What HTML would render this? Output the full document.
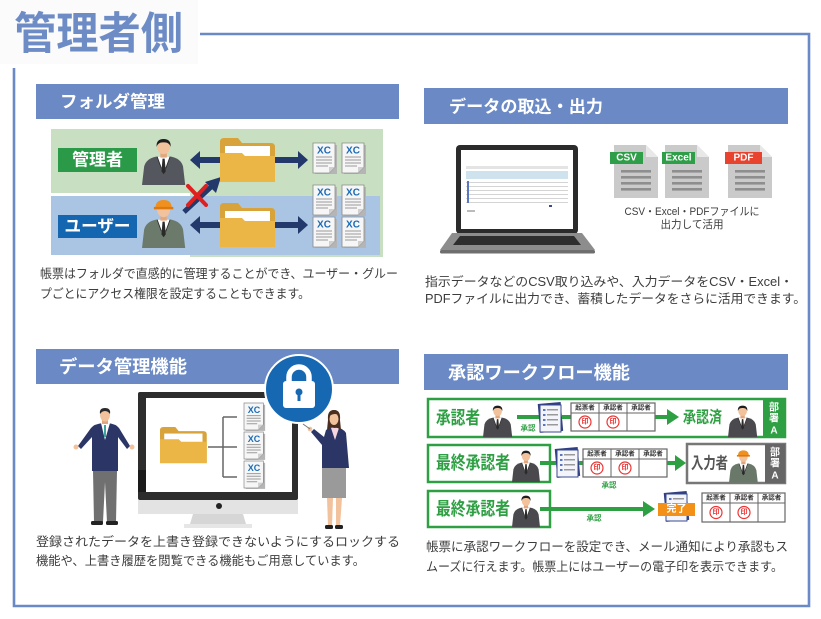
<!DOCTYPE html>
<html><head><meta charset="utf-8">
<style>
html,body{margin:0;padding:0;background:#fff;}
body{width:821px;height:619px;overflow:hidden;}
svg{display:block;}
</style></head>
<body>
<svg width="821" height="619" viewBox="0 0 821 619" xmlns="http://www.w3.org/2000/svg" font-family="'Liberation Sans','Noto Sans CJK JP',sans-serif">
<defs>
  <g id="person">
    <path d="M0,48 L2,29 Q4,21 13,19 L27,19 Q36,21 38,29 L40,48Z" fill="currentColor"/>
    <polygon points="14,19 20,36 26,19" fill="#fff"/>
    <polygon points="19,21 21,21 22,34 20,37 18,34" fill="#2a2a2a"/>
    <path d="M14,19 L18,31 M26,19 L22,31" stroke="#2a2a2a" stroke-width="0.8" fill="none"/>
    <rect x="17" y="14" width="6" height="6" fill="#e3a77f"/>
    <ellipse cx="20" cy="9" rx="6" ry="7.5" fill="#f1c29c"/>
    <path d="M13.5,9 Q13,1 20,1 Q27,1 26.5,9 Q25,4 20,4.5 Q15,4 13.5,9Z" fill="#1e1e1e"/>
  </g>
  <g id="personH">
    <path d="M0,48 L2,29 Q4,21 13,19 L27,19 Q36,21 38,29 L40,48Z" fill="currentColor"/>
    <polygon points="14,19 20,36 26,19" fill="#fff"/>
    <polygon points="19,21 21,21 22,34 20,37 18,34" fill="#2a2a2a"/>
    <path d="M14,19 L18,31 M26,19 L22,31" stroke="#2a2a2a" stroke-width="0.8" fill="none"/>
    <rect x="17" y="14" width="6" height="6" fill="#e3a77f"/>
    <ellipse cx="20" cy="9" rx="6" ry="7.5" fill="#f1c29c"/>
    <path d="M12.5,7 Q12.5,-1 20,-1 Q27.5,-1 27.5,7 Z" fill="#f0901e"/>
    <rect x="11" y="6" width="18" height="2.5" fill="#dc7a10"/>
  </g>
  <g id="folder">
    <path d="M0,4 Q0,0 4,0 H18 L22,5 H51 Q55,5 55,9 V44 H0Z" fill="#d8a33a"/>
    <rect x="5" y="8" width="45" height="20" fill="#fff"/>
    <path d="M0,15 H22 L25,18 H55 V44 H0Z" fill="#ebb646"/>
  </g>
  <g id="xcdoc">
    <rect x="2" y="2" width="22" height="29" fill="#b5b5b5"/>
    <path d="M0,0 H22 V24 L16,30 H0Z" fill="#f6f6f6" stroke="#8a8a8a" stroke-width="0.8"/>
    <path d="M16,30 V24 H22Z" fill="#cfcfcf"/>
    <path d="M3,14 H19 M3,17 H19 M3,20 H19 M3,23 H15" stroke="#9a9a9a" stroke-width="1.1"/>
  </g>
  <g id="file">
    <path d="M0,0 H32 L44,12 V53 H0Z" fill="#cacaca"/>
    <path d="M32,0 V12 H44Z" fill="#e8e8e8"/>
    <rect x="7" y="25" width="30" height="2.6" fill="#8e8e8e"/>
    <rect x="7" y="31" width="30" height="2.6" fill="#8e8e8e"/>
    <rect x="7" y="37" width="30" height="2.6" fill="#8e8e8e"/>
    <rect x="7" y="43" width="30" height="2.6" fill="#8e8e8e"/>
  </g>
  <g id="form">
    <rect x="1" y="0" width="23" height="29" fill="#2f3f80" transform="rotate(-5 12 15)"/>
    <rect x="2" y="2" width="21" height="27" fill="#f3f5fb" stroke="#3b4a8f" stroke-width="1"/>
    <rect x="5" y="6" width="2.5" height="2" fill="#5a78c0"/><rect x="9" y="6" width="11" height="1.5" fill="#999"/>
    <rect x="5" y="11" width="2.5" height="2" fill="#5a78c0"/><rect x="9" y="11" width="11" height="1.5" fill="#999"/>
    <rect x="5" y="16" width="2.5" height="2" fill="#5a78c0"/><rect x="9" y="16" width="11" height="1.5" fill="#999"/>
    <rect x="5" y="21" width="2.5" height="2" fill="#5a78c0"/><rect x="9" y="21" width="11" height="1.5" fill="#999"/>
  </g>
</defs>

<!-- Title -->
<rect x="0" y="0" width="198" height="64" fill="#fbfbfb"/>
<text x="14" y="34" font-size="44" font-weight="bold" fill="#6d8cc6" dominant-baseline="central" textLength="169" lengthAdjust="spacingAndGlyphs">管理者側</text>

<!-- Frame -->
<path d="M200,34 H809 V606 H14 V68" fill="none" stroke="#6a89c7" stroke-width="2.6"/>

<!-- Section headers -->
<rect x="36" y="84" width="363" height="35" fill="#6a89c5"/>
<text x="60" y="102" font-size="17" font-weight="bold" fill="#fff" dominant-baseline="central" textLength="105" lengthAdjust="spacingAndGlyphs">フォルダ管理</text>
<rect x="424" y="88" width="364" height="36" fill="#6a89c5"/>
<text x="449" y="107" font-size="17" font-weight="bold" fill="#fff" dominant-baseline="central" textLength="154" lengthAdjust="spacingAndGlyphs">データの取込・出力</text>
<rect x="36" y="349" width="363" height="35" fill="#6a89c5"/>
<text x="59" y="367" font-size="18" font-weight="bold" fill="#fff" dominant-baseline="central" textLength="128" lengthAdjust="spacingAndGlyphs">データ管理機能</text>
<rect x="424" y="354" width="364" height="36" fill="#6a89c5"/>
<text x="448" y="373" font-size="18" font-weight="bold" fill="#fff" dominant-baseline="central" textLength="182" lengthAdjust="spacingAndGlyphs">承認ワークフロー機能</text>

<!-- ============ Folder section ============ -->
<polygon points="51,129 383,129 383,257 190,257 190,193 51,193" fill="#c8e0c1"/>
<rect x="51" y="196" width="329" height="59" fill="#aac4e4"/>
<rect x="58" y="148" width="79" height="24" fill="#2a9a48"/>
<text x="97.5" y="160" font-size="17" font-weight="bold" fill="#fff" text-anchor="middle" dominant-baseline="central">管理者</text>
<rect x="58" y="215" width="79" height="23" fill="#1566b0"/>
<text x="97.5" y="226.5" font-size="17" font-weight="bold" fill="#fff" text-anchor="middle" dominant-baseline="central" textLength="66" lengthAdjust="spacingAndGlyphs">ユーザー</text>
<use href="#person" transform="translate(142,138) scale(1.08,0.98)" color="#54585e"/>
<use href="#personH" transform="translate(142,201) scale(1.08,0.98)" color="#6c7a6c"/>
<!-- arrows top -->
<g fill="#23386b">
  <rect x="198" y="157" width="24" height="6"/><polygon points="190,160 200,151 200,169"/>
  <rect x="275" y="157" width="24" height="6"/><polygon points="308,160 298,151 298,169"/>
  <rect x="198" y="222" width="24" height="6"/><polygon points="190,225 200,216 200,234"/>
  <rect x="275" y="222" width="24" height="6"/><polygon points="308,225 298,216 298,234"/>
  <line x1="184" y1="212" x2="211" y2="187" stroke="#23386b" stroke-width="5"/>
  <polygon points="221,177 216,193 205,182"/>
</g>
<use href="#folder" transform="translate(220,138)"/>
<use href="#folder" transform="translate(220,203)"/>
<g stroke="#e02020" stroke-width="4" stroke-linecap="round">
  <line x1="188" y1="186" x2="206" y2="205"/><line x1="206" y1="186" x2="188" y2="205"/>
</g>
<use href="#xcdoc" transform="translate(313,143)"/>
<use href="#xcdoc" transform="translate(342,143)"/>
<use href="#xcdoc" transform="translate(313,185)"/>
<use href="#xcdoc" transform="translate(342,185)"/>
<use href="#xcdoc" transform="translate(313,217)"/>
<use href="#xcdoc" transform="translate(342,217)"/>
<g font-size="10" font-weight="bold" fill="#1a6bb5" text-anchor="middle" dominant-baseline="central">
  <text x="324" y="151">XC</text><text x="353" y="151">XC</text>
  <text x="324" y="193">XC</text><text x="353" y="193">XC</text>
  <text x="324" y="225">XC</text><text x="353" y="225">XC</text>
</g>
<g font-size="12.5" fill="#3c3c3c" dominant-baseline="central">
  <text x="40" y="274" textLength="358" lengthAdjust="spacingAndGlyphs">帳票はフォルダで直感的に管理することができ、ユーザー・グルー</text>
  <text x="40" y="294" textLength="270" lengthAdjust="spacingAndGlyphs">プごとにアクセス権限を設定することもできます。</text>
</g>

<!-- ============ Data import section ============ -->
<rect x="456" y="145" width="122" height="89" rx="4" fill="#2b2b2b"/>
<rect x="461" y="150" width="112" height="79" fill="#fff"/>
<rect x="466" y="166" width="102" height="3" fill="#e4e4e4"/>
<rect x="466" y="171" width="102" height="8" fill="#cfe3ee"/>
<g fill="#d4d4d4">
  <rect x="466" y="182" width="102" height="1"/><rect x="466" y="186" width="102" height="1"/>
  <rect x="466" y="190" width="102" height="1"/><rect x="466" y="194" width="102" height="1"/>
  <rect x="466" y="198" width="102" height="1"/><rect x="466" y="202" width="102" height="1"/>
</g>
<g fill="#5a78c0"><rect x="467" y="181" width="2" height="22"/></g>
<rect x="549" y="205" width="3" height="2" fill="#3b4a8f"/>
<rect x="467" y="210" width="8" height="2" fill="#bbb"/>
<polygon points="452,233 582,233 595,250 440,250" fill="#8d8d8d"/>
<polygon points="460,236 574,236 581,245 453,245" fill="#2e2e2e"/>
<rect x="440" y="250" width="155" height="3.5" rx="1.5" fill="#6e6e6e"/>
<use href="#file" transform="translate(614,145)"/>
<use href="#file" transform="translate(665,145)"/>
<use href="#file" transform="translate(728,145)"/>
<rect x="610" y="152" width="33" height="12" fill="#2f9e48"/>
<rect x="662" y="152" width="33" height="12" fill="#2f9e48"/>
<rect x="725" y="152" width="37" height="12" fill="#e8432f"/>
<g font-size="10" font-weight="bold" fill="#fff" text-anchor="middle" dominant-baseline="central">
  <text x="626.5" y="158">CSV</text>
  <text x="678.5" y="158">Excel</text>
  <text x="743.5" y="158">PDF</text>
</g>
<g font-size="11" fill="#3c3c3c" text-anchor="middle" dominant-baseline="central">
  <text x="692" y="212" textLength="135" lengthAdjust="spacingAndGlyphs">CSV・Excel・PDFファイルに</text>
  <text x="692" y="225" textLength="63" lengthAdjust="spacingAndGlyphs">出力して活用</text>
</g>
<g font-size="12.5" fill="#3c3c3c" dominant-baseline="central">
  <text x="425" y="282" textLength="368" lengthAdjust="spacingAndGlyphs">指示データなどのCSV取り込みや、入力データをCSV・Excel・</text>
  <text x="425" y="299" textLength="381" lengthAdjust="spacingAndGlyphs">PDFファイルに出力でき、蓄積したデータをさらに活用できます。</text>
</g>

<!-- ============ Data management section ============ -->
<rect x="138" y="392" width="160" height="108" rx="2" fill="#2d2d2d"/>
<rect x="146" y="398" width="146" height="94" fill="#fff"/>
<rect x="138" y="470" width="8" height="22" fill="#1a1a1a"/>
<rect x="138" y="500" width="160" height="14" fill="#e3e3e3"/>
<circle cx="219" cy="506" r="3" fill="#222"/>
<polygon points="193,514 243,514 246,524 190,524" fill="#d6d6d6"/>
<rect x="184" y="524" width="68" height="4" fill="#e6e6e6"/>
<use href="#folder" transform="translate(160,427) scale(0.85,0.82)"/>
<g stroke="#666" stroke-width="1.5" fill="none">
  <path d="M208,447 H237 M223,417 V477 M223,417 H237 M223,477 H237"/>
</g>
<use href="#xcdoc" transform="translate(244,403) scale(0.88,0.9)"/>
<use href="#xcdoc" transform="translate(244,432) scale(0.88,0.9)"/>
<use href="#xcdoc" transform="translate(244,461) scale(0.88,0.9)"/>
<g font-size="9" font-weight="bold" fill="#1a6bb5" text-anchor="middle" dominant-baseline="central">
  <text x="254" y="410">XC</text><text x="254" y="439">XC</text><text x="254" y="468">XC</text>
</g>
<!-- lock -->
<circle cx="299" cy="389" r="34" fill="#1668b3" stroke="#fff" stroke-width="2"/>
<path d="M289,384 V377 A10,10 0 0 1 309,377 V384" fill="none" stroke="#fff" stroke-width="5.5"/>
<rect x="283" y="381" width="32" height="27" rx="3" fill="#fff"/>
<circle cx="299" cy="392" r="3.5" fill="#1668b3"/>
<rect x="297.5" y="393" width="3" height="8" fill="#1668b3"/>
<!-- man -->
<g>
  <path d="M91,428 Q94,424 103,423 L108,423 Q116,424 119,428 L130,446 L127,449 L118,437 L118,471 L92,471 L92,437 L81,449 L78,446Z" fill="#2b3566"/>
  <polygon points="101,423 105,440 110,423" fill="#fff"/>
  <rect x="104" y="425" width="2" height="12" fill="#3ca5a0"/>
  <circle cx="76" cy="447" r="2.5" fill="#f1c29c"/>
  <circle cx="132" cy="447" r="2.5" fill="#f1c29c"/>
  <path d="M93,471 H117 L116,522 H107 L105,482 L103,522 H94Z" fill="#707070"/>
  <rect x="91" y="521" width="12" height="4" rx="1.5" fill="#222"/>
  <rect x="106" y="521" width="12" height="4" rx="1.5" fill="#222"/>
  <rect x="102" y="418" width="6" height="6" fill="#e3a77f"/>
  <ellipse cx="105" cy="415" rx="5" ry="6.5" fill="#f1c29c"/>
  <path d="M100,414 Q99,408 105,408 Q111,408 110,414 Q108,411 105,411 Q102,411 100,414Z" fill="#2a2a2a"/>
</g>
<!-- woman -->
<g>
  <path d="M326,430 Q330,427 335,427 Q343,428 346,433 L349,468 L322,468 L322,445 L311,432 L314,429 L324,437Z" fill="#2b3566"/>
  <polygon points="331,428 335,440 339,428" fill="#f4d5e0"/>
  <circle cx="310" cy="429" r="2.3" fill="#f1c29c"/>
  <line x1="303" y1="424" x2="310" y2="429" stroke="#777" stroke-width="1"/>
  <rect x="322" y="468" width="24" height="30" fill="#9a9a9a"/>
  <path d="M327,498 H333 L332,526 H328Z M336,498 H342 L340,526 H336Z" fill="#f1c29c"/>
  <rect x="325" y="525" width="8" height="4" rx="1.5" fill="#222"/>
  <rect x="335" y="525" width="8" height="4" rx="1.5" fill="#222"/>
  <path d="M328,420 Q327,410 334,410 Q341,410 340,420 L341,430 L336,427 L332,427 L327,430Z" fill="#4a2f20"/>
  <ellipse cx="334" cy="419" rx="4.5" ry="6" fill="#f1c29c"/>
  <path d="M329,416 Q330,410 334,410 Q339,410 339,416 Q336,412 329,416Z" fill="#4a2f20"/>
</g>
<g font-size="12.5" fill="#3c3c3c" dominant-baseline="central">
  <text x="36" y="542" textLength="364" lengthAdjust="spacingAndGlyphs">登録されたデータを上書き登録できないようにするロックする</text>
  <text x="36" y="561" textLength="329" lengthAdjust="spacingAndGlyphs">機能や、上書き履歴を閲覧できる機能もご用意しています。</text>
</g>

<!-- ============ Workflow section ============ -->
<!-- Row 1 -->
<rect x="428" y="399" width="357" height="38" fill="#fff" stroke="#2ea043" stroke-width="2.5"/>
<rect x="763" y="399" width="22" height="38" fill="#2ea043"/>
<g font-size="10" font-weight="bold" fill="#fff" text-anchor="middle" dominant-baseline="central">
  <text x="774" y="408">部</text><text x="774" y="419">署</text><text x="774" y="431">A</text>
</g>
<text x="436" y="418" font-size="18" font-weight="bold" fill="#2ea043" dominant-baseline="central" textLength="44" lengthAdjust="spacingAndGlyphs">承認者</text>
<use href="#person" transform="translate(483,405) scale(0.73,0.67)" color="#4a4a4e"/>
<line x1="517" y1="417" x2="540" y2="417" stroke="#2ea043" stroke-width="4"/>
<text x="528" y="428" font-size="7.5" font-weight="bold" fill="#2ea043" text-anchor="middle" dominant-baseline="central">承認</text>
<use href="#form" transform="translate(538,403)"/>
<line x1="562" y1="417" x2="571" y2="417" stroke="#2ea043" stroke-width="4"/>
<g>
  <rect x="571" y="403" width="84" height="28" fill="#fff" stroke="#666" stroke-width="1.2"/>
  <path d="M571,413 H655 M599,403 V431 M627,403 V431" stroke="#666" stroke-width="1"/>
  <g font-size="6.5" font-weight="bold" fill="#333" text-anchor="middle" dominant-baseline="central">
    <text x="585" y="408">起票者</text><text x="613" y="408">承認者</text><text x="641" y="408">承認者</text>
  </g>
  <circle cx="585" cy="422" r="6" fill="none" stroke="#e33" stroke-width="1.2"/>
  <circle cx="613" cy="422" r="6" fill="none" stroke="#e33" stroke-width="1.2"/>
  <g font-size="7" font-weight="bold" fill="#e33" text-anchor="middle" dominant-baseline="central">
    <text x="585" y="422">印</text><text x="613" y="422">印</text>
  </g>
</g>
<line x1="655" y1="417" x2="669" y2="417" stroke="#2ea043" stroke-width="4"/>
<polygon points="667,409 679,417 667,425" fill="#2ea043"/>
<text x="683" y="418" font-size="16" font-weight="bold" fill="#2ea043" dominant-baseline="central" textLength="39" lengthAdjust="spacingAndGlyphs">承認済</text>
<use href="#person" transform="translate(728,405) scale(0.73,0.67)" color="#4a4a4e"/>

<!-- Row 2 -->
<rect x="428" y="445" width="122" height="37" fill="#fff" stroke="#2ea043" stroke-width="2.5"/>
<text x="436" y="463" font-size="18" font-weight="bold" fill="#2ea043" dominant-baseline="central" textLength="74" lengthAdjust="spacingAndGlyphs">最終承認者</text>
<use href="#person" transform="translate(512,450) scale(0.7,0.67)" color="#4a4a4e"/>
<line x1="540" y1="463" x2="556" y2="463" stroke="#2ea043" stroke-width="4"/>
<use href="#form" transform="translate(555,448)"/>
<line x1="579" y1="463" x2="583" y2="463" stroke="#2ea043" stroke-width="4"/>
<g>
  <rect x="583" y="449" width="84" height="28" fill="#fff" stroke="#666" stroke-width="1.2"/>
  <path d="M583,459 H667 M611,449 V477 M639,449 V477" stroke="#666" stroke-width="1"/>
  <g font-size="6.5" font-weight="bold" fill="#333" text-anchor="middle" dominant-baseline="central">
    <text x="597" y="454">起票者</text><text x="625" y="454">承認者</text><text x="653" y="454">承認者</text>
  </g>
  <circle cx="597" cy="468" r="6" fill="none" stroke="#e33" stroke-width="1.2"/>
  <circle cx="625" cy="468" r="6" fill="none" stroke="#e33" stroke-width="1.2"/>
  <g font-size="7" font-weight="bold" fill="#e33" text-anchor="middle" dominant-baseline="central">
    <text x="597" y="468">印</text><text x="625" y="468">印</text>
  </g>
</g>
<text x="609" y="485" font-size="7.5" font-weight="bold" fill="#2ea043" text-anchor="middle" dominant-baseline="central">承認</text>
<line x1="667" y1="463" x2="677" y2="463" stroke="#2ea043" stroke-width="4"/>
<polygon points="675,455 686,463 675,471" fill="#2ea043"/>
<rect x="687" y="444" width="98" height="39" fill="#fff" stroke="#777" stroke-width="2.5"/>
<rect x="765" y="444" width="20" height="39" fill="#666"/>
<g font-size="10" font-weight="bold" fill="#fff" text-anchor="middle" dominant-baseline="central">
  <text x="775" y="453">部</text><text x="775" y="464">署</text><text x="775" y="476">A</text>
</g>
<text x="691" y="464" font-size="16" font-weight="bold" fill="#555" dominant-baseline="central" textLength="37" lengthAdjust="spacingAndGlyphs">入力者</text>
<use href="#personH" transform="translate(729,451) scale(0.72,0.66)" color="#6a786a"/>

<!-- Row 3 -->
<rect x="428" y="491" width="122" height="36" fill="#fff" stroke="#2ea043" stroke-width="2.5"/>
<text x="436" y="509" font-size="18" font-weight="bold" fill="#2ea043" dominant-baseline="central" textLength="74" lengthAdjust="spacingAndGlyphs">最終承認者</text>
<use href="#person" transform="translate(512,495) scale(0.7,0.67)" color="#4a4a4e"/>
<line x1="540" y1="509" x2="645" y2="509" stroke="#2ea043" stroke-width="4"/>
<polygon points="643,501 655,509 643,517" fill="#2ea043"/>
<text x="594" y="518" font-size="7.5" font-weight="bold" fill="#2ea043" text-anchor="middle" dominant-baseline="central">承認</text>
<use href="#form" transform="translate(664,492)"/>
<rect x="658" y="503" width="37" height="13" fill="#f39018"/>
<text x="676.5" y="509.5" font-size="10" font-weight="bold" fill="#fff" text-anchor="middle" dominant-baseline="central">完了</text>
<g>
  <rect x="702" y="493" width="83" height="29" fill="#fff" stroke="#666" stroke-width="1.2"/>
  <path d="M702,503 H785 M730,493 V522 M758,493 V522" stroke="#666" stroke-width="1"/>
  <g font-size="6.5" font-weight="bold" fill="#333" text-anchor="middle" dominant-baseline="central">
    <text x="716" y="498">起票者</text><text x="744" y="498">承認者</text><text x="771.5" y="498">承認者</text>
  </g>
  <circle cx="716" cy="512.5" r="6" fill="none" stroke="#e33" stroke-width="1.2"/>
  <circle cx="744" cy="512.5" r="6" fill="none" stroke="#e33" stroke-width="1.2"/>
  <g font-size="7" font-weight="bold" fill="#e33" text-anchor="middle" dominant-baseline="central">
    <text x="716" y="512.5">印</text><text x="744" y="512.5">印</text>
  </g>
</g>
<g font-size="12.5" fill="#3c3c3c" dominant-baseline="central">
  <text x="426" y="547" textLength="362" lengthAdjust="spacingAndGlyphs">帳票に承認ワークフローを設定でき、メール通知により承認もス</text>
  <text x="426" y="567" textLength="357" lengthAdjust="spacingAndGlyphs">ムーズに行えます。帳票上にはユーザーの電子印を表示できます。</text>
</g>
</svg>
</body></html>
